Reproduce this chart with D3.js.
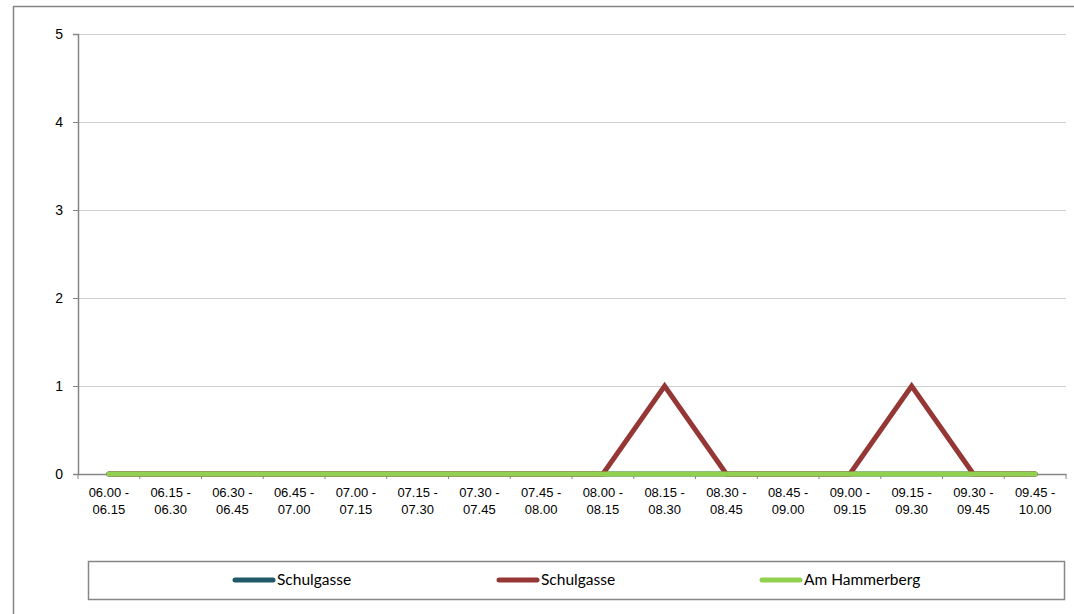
<!DOCTYPE html>
<html>
<head>
<meta charset="utf-8">
<script src="https://cdnjs.cloudflare.com/ajax/libs/d3/7.8.5/d3.min.js"></script>
<style>
    body { margin: 0; background: #fff; }
    svg { display: block; font-family: Lato, "Open Sans", sans-serif; }
</style>
</head>
<body>
<div id="chart"></div>
<script>
const categories = [
    "06.00 - 06.15", "06.15 - 06.30", "06.30 - 06.45", "06.45 - 07.00",
    "07.00 - 07.15", "07.15 - 07.30", "07.30 - 07.45", "07.45 - 08.00",
    "08.00 - 08.15", "08.15 - 08.30", "08.30 - 08.45", "08.45 - 09.00",
    "09.00 - 09.15", "09.15 - 09.30", "09.30 - 09.45", "09.45 - 10.00"
];
const seriesNames = ["Schulgasse", "Schulgasse", "Am Hammerberg"];
const seriesColors = ["#215968", "#953735", "#92d050"];
const schulgasseA = [0, 0, 0, 0, 0, 0, 0, 0, 0, 0, 0, 0, 0, 0, 0, 0];
const schulgasseB = [0, 0, 0, 0, 0, 0, 0, 0, 0, 1, 0, 0, 0, 1, 0, 0];
const hammerberg = [0, 0, 0, 0, 0, 0, 0, 0, 0, 0, 0, 0, 0, 0, 0, 0];
const yTicks = [0, 1, 2, 3, 4, 5];

const series = [schulgasseA, schulgasseB, hammerberg];

const width = 1074, height = 614;
const plot = { left: 78, top: 34, right: 1066, bottom: 474 };

const svg = d3.select("#chart")
    .append("svg")
        .attr("width", width)
        .attr("height", height);

// outer chart frame (runs off the right and bottom edge)
svg.append("rect")
    .attr("x", 13.5)
    .attr("y", 6.5)
    .attr("width", 1100)
    .attr("height", 700)
    .attr("fill", "none")
    .attr("stroke", "#868686")
    .attr("stroke-width", 1.5);

const x = d3.scaleBand()
    .domain(categories)
    .range([plot.left, plot.right]);

const y = d3.scaleLinear()
    .domain([0, 5])
    .range([plot.bottom, plot.top]);

// gridlines
svg.append("g")
    .selectAll("line")
    .data(yTicks.filter(d => d > 0))
    .enter()
    .append("line")
        .attr("x1", plot.left)
        .attr("x2", plot.right)
        .attr("y1", d => Math.round(y(d)) + 0.5)
        .attr("y2", d => Math.round(y(d)) + 0.5)
        .attr("stroke", "#d0d0d0")
        .attr("stroke-width", 1);

// y axis
const yAxis = svg.append("g")
    .attr("transform", `translate(${plot.left},0)`)
    .call(d3.axisLeft(y).tickValues(yTicks).tickFormat(d3.format("d")).tickSize(5).tickPadding(10));
yAxis.select(".domain").attr("stroke", "#868686").attr("stroke-width", 1.5);
yAxis.selectAll(".tick line").attr("stroke", "#868686");
yAxis.selectAll("text")
    .attr("font-size", 14)
    .attr("fill", "#000");

// x axis
const xAxis = svg.append("g")
    .attr("transform", `translate(0,${plot.bottom})`)
    .call(d3.axisBottom(x).tickSize(0).tickFormat(""));
xAxis.select(".domain").attr("stroke", "#868686").attr("stroke-width", 1.5);

xAxis.selectAll(".boundary")
    .data(categories.concat(["end"]))
    .enter()
    .append("line")
        .attr("x1", (d, i) => x.range()[0] + i * x.bandwidth())
        .attr("x2", (d, i) => x.range()[0] + i * x.bandwidth())
        .attr("y1", 0)
        .attr("y2", 5)
        .attr("stroke", "#868686");

const labels = xAxis.selectAll(".lbl")
    .data(categories)
    .enter()
    .append("text")
        .attr("x", d => x(d) + x.bandwidth() / 2)
        .attr("y", 23)
        .attr("text-anchor", "middle")
        .attr("font-size", 13)
        .attr("fill", "#000");
labels.append("tspan")
    .attr("x", d => x(d) + x.bandwidth() / 2)
    .text(d => d.split(" - ")[0] + " -");
labels.append("tspan")
    .attr("x", d => x(d) + x.bandwidth() / 2)
    .attr("dy", 17)
    .text(d => d.split(" - ")[1]);

// lines
const line = d3.line()
    .x((d, i) => x(categories[i]) + x.bandwidth() / 2)
    .y(d => y(d));

svg.append("g")
    .selectAll("path")
    .data(series)
    .enter()
    .append("path")
        .attr("d", line)
        .attr("fill", "none")
        .attr("stroke", (d, i) => seriesColors[i])
        .attr("stroke-width", 5)
        .attr("stroke-linecap", "round")
        .attr("stroke-linejoin", "miter");

// legend
const legend = svg.append("g");
legend.append("rect")
    .attr("x", 88.5)
    .attr("y", 561.5)
    .attr("width", 976)
    .attr("height", 38)
    .attr("fill", "#fff")
    .attr("stroke", "#868686")
    .attr("stroke-width", 1.5);

const legendX = [233, 497, 760];
const items = legend.selectAll(".item")
    .data(seriesNames)
    .enter()
    .append("g")
        .attr("transform", (d, i) => `translate(${legendX[i]},580)`);
items.append("line")
    .attr("x1", 2)
    .attr("x2", 40)
    .attr("stroke", (d, i) => seriesColors[i])
    .attr("stroke-width", 5)
    .attr("stroke-linecap", "round");
items.append("text")
    .attr("x", 44)
    .attr("dy", "0.35em")
    .attr("font-size", 15.5)
    .attr("fill", "#000")
    .text(d => d);
</script>
</body>
</html>
